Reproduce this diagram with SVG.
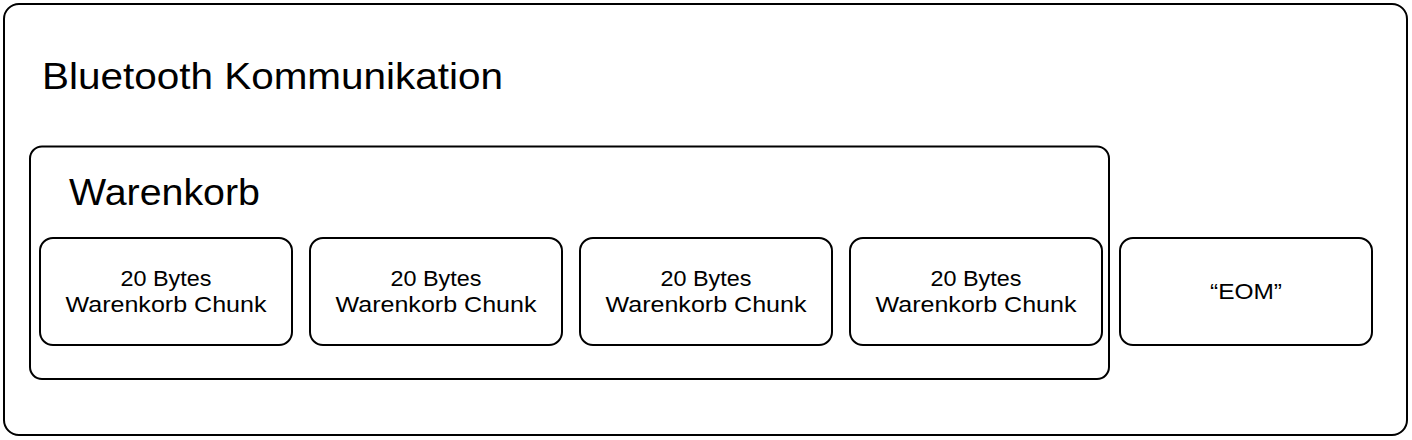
<svg xmlns="http://www.w3.org/2000/svg" width="1412" height="440" viewBox="0 0 1412 440">
<style>
.box{fill:#fff;stroke:#000;stroke-width:2}
.t{font-family:"Liberation Sans",Arial,Helvetica,sans-serif;fill:#000}
.big{font-size:36px}
.small{font-size:22px;text-anchor:middle}
</style>
<g id="bluetooth">
<rect class="box" x="4" y="4" width="1403" height="431" rx="15" ry="15"/>
<text class="t big" x="42" y="89" textLength="461" lengthAdjust="spacingAndGlyphs">Bluetooth Kommunikation</text>
</g>
<g id="warenkorb">
<rect class="box" x="30" y="146.5" width="1079" height="232.5" rx="12" ry="12"/>
<text class="t big" x="69" y="205" textLength="191" lengthAdjust="spacingAndGlyphs">Warenkorb</text>
</g>
<g id="chunk1">
<rect class="box" x="40" y="238" width="252" height="107" rx="13" ry="13"/>
<text class="t small" x="166" y="286" textLength="91" lengthAdjust="spacingAndGlyphs">20 Bytes</text>
<text class="t small" x="166" y="312" textLength="201" lengthAdjust="spacingAndGlyphs">Warenkorb Chunk</text>
</g>
<g id="chunk2">
<rect class="box" x="310" y="238" width="252" height="107" rx="13" ry="13"/>
<text class="t small" x="436" y="286" textLength="91" lengthAdjust="spacingAndGlyphs">20 Bytes</text>
<text class="t small" x="436" y="312" textLength="201" lengthAdjust="spacingAndGlyphs">Warenkorb Chunk</text>
</g>
<g id="chunk3">
<rect class="box" x="580" y="238" width="252" height="107" rx="13" ry="13"/>
<text class="t small" x="706" y="286" textLength="91" lengthAdjust="spacingAndGlyphs">20 Bytes</text>
<text class="t small" x="706" y="312" textLength="201" lengthAdjust="spacingAndGlyphs">Warenkorb Chunk</text>
</g>
<g id="chunk4">
<rect class="box" x="850" y="238" width="252" height="107" rx="13" ry="13"/>
<text class="t small" x="976" y="286" textLength="91" lengthAdjust="spacingAndGlyphs">20 Bytes</text>
<text class="t small" x="976" y="312" textLength="201" lengthAdjust="spacingAndGlyphs">Warenkorb Chunk</text>
</g>
<g id="eom">
<rect class="box" x="1120" y="238" width="252" height="107" rx="13" ry="13"/>
<text class="t small" x="1246" y="299" textLength="72" lengthAdjust="spacingAndGlyphs">“EOM”</text>
</g>
<g id="connectors"></g>
</svg>
